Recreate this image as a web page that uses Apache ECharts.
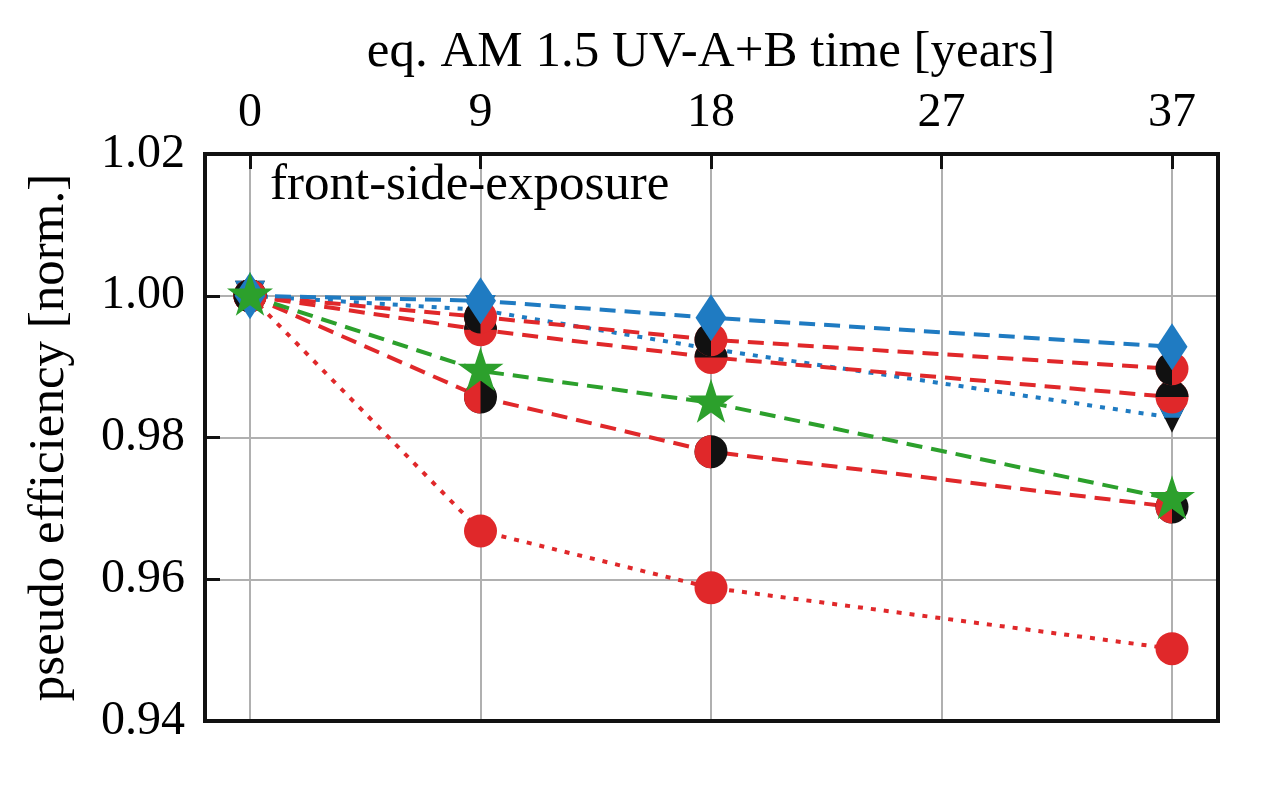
<!DOCTYPE html>
<html><head><meta charset="utf-8">
<script src="https://cdn.jsdelivr.net/npm/echarts@6/dist/echarts.min.js"></script>
<style>html,body{margin:0;padding:0;background:#fff}#c{width:1280px;height:790px}</style>
</head><body><div id="c"></div>
<script>
// ---- data ----
const xTickLabels = ['0', '9', '18', '27', '37'];      // top axis tick labels [years]
const measuredYears = ['0', '9', '18', '37'];          // exposure steps with data
const yMin = 0.94, yMax = 1.02, yStep = 0.02;
const redDashA  = [1.000, 0.9970, 0.9938, 0.9897];
const redDashB  = [1.000, 0.9952, 0.9913, 0.9857];
const redDashC  = [1.000, 0.9857, 0.9780, 0.9702];
const redDot    = [1.000, 0.9668, 0.9588, 0.9502];
const greenDash = [1.000, 0.9894, 0.9849, 0.9713];
const blueDash  = [1.000, 0.9993, 0.9969, 0.9928];
const blueDot   = [1.000, 0.9980, 0.9925, 0.9828];

// ---- styles ----
const FONT = "'Liberation Serif','DejaVu Serif',serif";
const RED = '#e0282a', BLUE = '#1f7bc2', GREEN = '#2ca02c', BLACK = '#111';
const DASH = [16, 9], DOT = [5, 8];
const P_LEFT = 'path://M10,0 A10,10 0 0 0 10,20 Z';
const P_TOP = 'path://M0,10 A10,10 0 0 1 20,10 Z';
const P_STAR = 'path://M10,0 L12.245,6.91 L19.511,6.91 L13.633,11.18 L15.878,18.09 L10,13.82 L4.122,18.09 L6.367,11.18 L0.489,6.91 L7.755,6.91 Z';
const P_TRI = 'path://M0,0 L20,0 L10,20 Z';
const P_TRI_TOP = 'path://M0,0 L20,0 L15,10 L5,10 Z';
const D = 33; // circle diameter

function pairs(vals) { return measuredYears.map((y, i) => [y, vals[i]]); }
function line(vals, color, type) {
  return { type: 'line', data: pairs(vals), symbol: 'none', showSymbol: false, z: 2, silent: true,
    lineStyle: { color: color, width: 4, type: type } };
}
function mark(vals, symbol, size, color, z, offset) {
  return { type: 'scatter', data: pairs(vals), symbol: symbol, symbolSize: size,
    symbolOffset: offset || [0, 0], itemStyle: { color: color, opacity: 1 }, z: z, silent: true };
}

const series = [
  line(blueDot, BLUE, DOT),
  line(redDot, RED, DOT),
  line(redDashC, RED, DASH),
  line(redDashB, RED, DASH),
  line(redDashA, RED, DASH),
  line(greenDash, GREEN, DASH),
  line(blueDash, BLUE, DASH),
  // markers, bottom to top
  mark(blueDot, P_TRI, [30, 30], BLACK, 3),
  mark(blueDot, P_TRI_TOP, [30, 15], BLUE, 4, [0, -7.5]),
  mark(redDot, 'circle', D, RED, 5),
  mark(redDashC, 'circle', D, BLACK, 6),
  mark(redDashC, P_LEFT, [D / 2, D], RED, 7, [-D / 4, 0]),
  mark(redDashB, 'circle', D, RED, 8),
  mark(redDashB, P_TOP, [D, D / 2], BLACK, 9, [0, -D / 4]),
  mark(redDashA, 'circle', D, RED, 10),
  mark(redDashA, P_LEFT, [D / 2, D], BLACK, 11, [-D / 4, 0]),
  mark(blueDash, 'diamond', [31, 47], BLUE, 12),
  mark(greenDash, P_STAR, [46, 44], GREEN, 13, [0, -2])
];

const chart = echarts.init(document.getElementById('c'), null, { renderer: 'canvas' });
chart.setOption({
  animation: false,
  backgroundColor: '#fff',
  textStyle: { fontFamily: FONT },
  grid: [
    { left: 250, right: 108, top: 154, bottom: 69, show: false },
    { left: 205, right: 62, top: 154, bottom: 69, show: true, borderColor: BLACK, borderWidth: 4,
      backgroundColor: 'transparent', z: 3 }
  ],
  graphic: [{
    type: 'text', left: 270, top: 160, z: 20,
    style: { text: 'front-side-exposure', font: "51px 'Liberation Serif', serif", fill: '#000' }
  }],
  xAxis: [
    { type: 'category', gridIndex: 0, position: 'top', data: xTickLabels, boundaryGap: false,
      name: 'eq. AM 1.5 UV-A+B time [years]', nameLocation: 'middle', nameGap: 76,
      nameTextStyle: { fontSize: 51, fontFamily: FONT, color: '#000' },
      axisLine: { show: false },
      axisTick: { show: true, inside: true, length: 15, alignWithLabel: true, lineStyle: { color: BLACK, width: 3 } },
      axisLabel: { fontSize: 48, fontFamily: FONT, color: '#000', margin: 17 },
      splitLine: { show: true, lineStyle: { color: '#b0b0b0', width: 2 } } },
    { type: 'value', gridIndex: 1, show: false, min: 0, max: 1 }
  ],
  yAxis: [
    { type: 'value', gridIndex: 0, show: false, min: yMin, max: yMax },
    { type: 'value', gridIndex: 1, min: yMin, max: yMax, interval: yStep,
      name: 'pseudo efficiency [norm.]', nameLocation: 'middle', nameGap: 130,
      nameTextStyle: { fontSize: 51, fontFamily: FONT, color: '#000' },
      axisLine: { show: false },
      axisTick: { show: true, inside: true, length: 15, lineStyle: { color: BLACK, width: 3 } },
      axisLabel: { fontSize: 48, fontFamily: FONT, color: '#000', margin: 20, padding: [10, 0, 0, 0],
        formatter: v => v.toFixed(2) },
      splitLine: { show: true, showMinLine: false, showMaxLine: false, lineStyle: { color: '#b0b0b0', width: 2 } } }
  ],
  series: series
});
</script>
</body></html>
